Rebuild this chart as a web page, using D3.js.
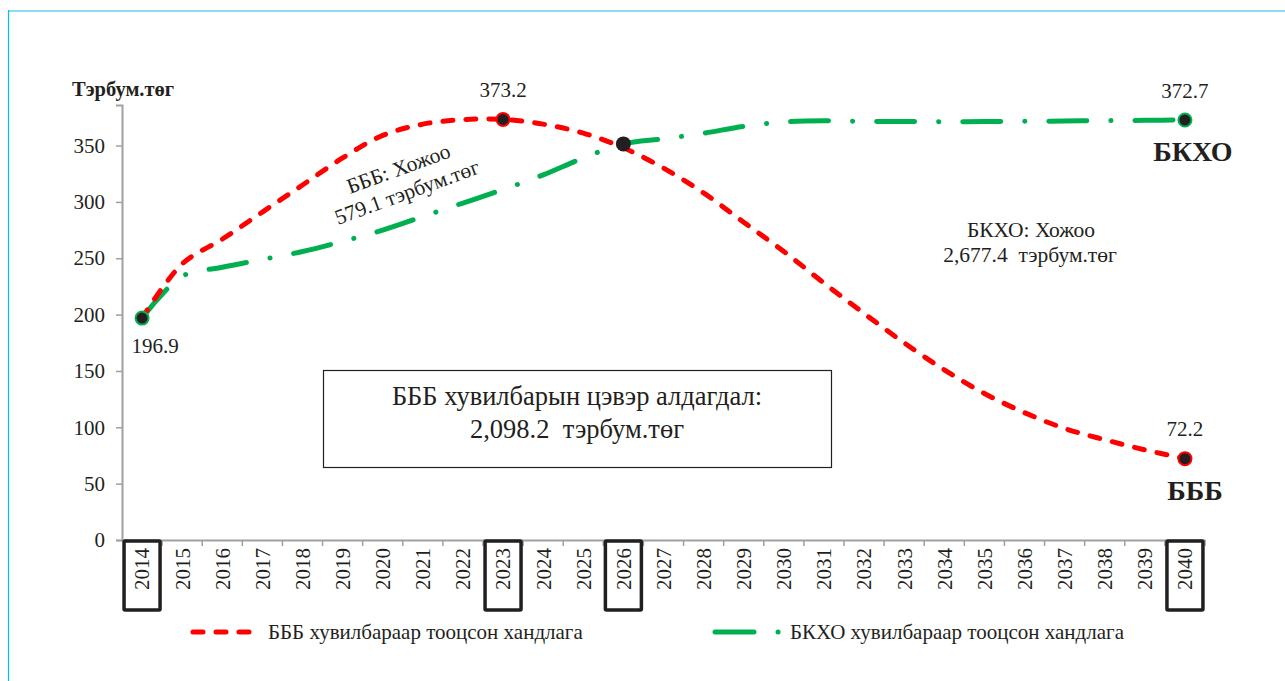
<!DOCTYPE html>
<html>
<head>
<meta charset="utf-8">
<script src="https://cdn.jsdelivr.net/npm/d3@7"></script>
<style>
  body { margin: 0; background: #fff; }
  text { font-family: "Liberation Serif", "DejaVu Serif", serif; fill: #231f20; }
</style>
</head>
<body>
<div id="chart"></div>
<script>
// Years on the x axis
const years = d3.range(2014, 2041).map(String);

// БББ scenario (red dashed), тэрбум.төг
const bbbValues = [196.9, 245, 267, 291, 315, 339, 359, 369, 373, 373.2,
  369, 361, 348, 330, 308, 282, 256, 228, 201, 175,
  151, 130, 113, 99, 89, 80, 72.2];

// БКХО scenario (green dash-dot)
const bkhoValues = [196.9, 234, 242, 249, 256, 265, 275, 287, 299, 311,
  324, 339, 351.5, 356, 361, 367, 371, 372, 371.5, 371.3,
  371.2, 371.3, 371.5, 371.8, 372.1, 372.4, 372.7];

const yTicks = [0, 50, 100, 150, 200, 250, 300, 350];
const boxedYears = ["2014", "2023", "2026", "2040"];

const W = 1285, H = 681;

const svg = d3.select("#chart").append("svg")
  .attr("width", W).attr("height", H);

// frame
svg.append("line").attr("x1", 8).attr("x2", W).attr("y1", 11).attr("y2", 11)
  .attr("stroke", "#8ddcf3").attr("stroke-width", 2);
svg.append("line").attr("x1", 8.5).attr("x2", 8.5).attr("y1", 10).attr("y2", H)
  .attr("stroke", "#00bff3").attr("stroke-width", 1.2);

const x = d3.scaleBand().domain(years).range([122, 1205]).paddingInner(0).paddingOuter(0);
const cx = d => x(d) + x.bandwidth() / 2;
const y = d3.scaleLinear().domain([0, 386]).range([540, 105]);

// y axis
const yAxis = svg.append("g").attr("transform", "translate(122,0)")
  .call(d3.axisLeft(y).tickValues(yTicks).tickSize(6).tickPadding(11));
yAxis.select(".domain").attr("stroke", "#a0a0a0").attr("stroke-width", 2);
yAxis.selectAll(".tick line").attr("stroke", "#a0a0a0").attr("stroke-width", 1.5);
yAxis.selectAll(".tick text").attr("font-size", 21)
  .attr("font-family", "Liberation Serif").attr("fill", "#231f20");

// x axis
const xAxis = svg.append("g").attr("transform", "translate(0,540)")
  .call(d3.axisBottom(x).tickSize(0).tickPadding(0));
xAxis.select(".domain").attr("stroke", "#a0a0a0").attr("stroke-width", 2);
xAxis.selectAll(".tick text")
  .attr("font-size", 21).attr("font-family", "Liberation Serif").attr("fill", "#231f20")
  .attr("text-anchor", "end").attr("dy", "0.35em")
  .attr("transform", "translate(0,8) rotate(-90)")
  .attr("x", 0).attr("y", 0);
// tick marks at band boundaries
svg.append("g").selectAll("line").data(years.slice(1).concat(["end"]))
  .join("line")
  .attr("x1", d => d === "end" ? 1205 : x(d))
  .attr("x2", d => d === "end" ? 1205 : x(d))
  .attr("y1", 540).attr("y2", 546)
  .attr("stroke", "#a0a0a0").attr("stroke-width", 1.5);

// highlight boxes around some years
svg.append("g").selectAll("rect").data(boxedYears).join("rect")
  .attr("x", d => cx(d) - 18).attr("y", 541)
  .attr("width", 36).attr("height", 69)
  .attr("fill", "none").attr("stroke", "#231f20").attr("stroke-width", 3.5)
  .attr("rx", 1);

// y axis title
svg.append("text").attr("x", 72).attr("y", 96)
  .attr("font-size", 20.5).attr("font-weight", "bold").text("Тэрбум.төг");

// lines
const line = d3.line()
  .x((d, i) => cx(years[i]))
  .y(d => y(d))
  .curve(d3.curveCatmullRom.alpha(0.5));

svg.append("path").datum(bkhoValues)
  .attr("d", line).attr("fill", "none")
  .attr("stroke", "#00b050").attr("stroke-width", 5)
  .attr("stroke-linecap", "round")
  .attr("stroke-dasharray", "38,24,0.1,24");

svg.append("path").datum(bbbValues)
  .attr("d", line).attr("fill", "none")
  .attr("stroke", "#ff0000").attr("stroke-width", 5)
  .attr("stroke-linecap", "round")
  .attr("stroke-dasharray", "10,13");

// markers
const markers = [
  { year: "2014", v: bkhoValues[0], stroke: "#00b050", r: 6.5 },
  { year: "2023", v: bbbValues[9], stroke: "#ff0000", r: 6.5 },
  { year: "2026", v: bkhoValues[12], stroke: "none", r: 7.5 },
  { year: "2040", v: bbbValues[26], stroke: "#ff0000", r: 6.5 },
  { year: "2040", v: bkhoValues[26], stroke: "#00b050", r: 6.5 }
];
svg.append("g").selectAll("circle").data(markers).join("circle")
  .attr("cx", d => cx(d.year)).attr("cy", d => y(d.v)).attr("r", d => d.r)
  .attr("fill", "#231f20").attr("stroke", d => d.stroke).attr("stroke-width", 2);

// value labels
const valueLabels = [
  { year: "2014", v: bbbValues[0], dx: 13, dy: 35 },
  { year: "2023", v: bbbValues[9], dx: 0, dy: -22 },
  { year: "2040", v: bkhoValues[26], dx: 0, dy: -22 },
  { year: "2040", v: bbbValues[26], dx: 0, dy: -23 }
];
svg.append("g").selectAll("text").data(valueLabels).join("text")
  .attr("x", d => cx(d.year) + d.dx).attr("y", d => y(d.v) + d.dy)
  .attr("text-anchor", "middle").attr("font-size", 21)
  .text(d => d.v.toFixed(1));

// series names near line ends
svg.append("text").attr("x", cx("2040") + 8).attr("y", 161)
  .attr("text-anchor", "middle").attr("font-size", 28).attr("font-weight", "bold")
  .text("БКХО");
svg.append("text").attr("x", cx("2040") + 10).attr("y", 500)
  .attr("text-anchor", "middle").attr("font-size", 28).attr("font-weight", "bold")
  .text("БББ");

// rotated annotation
const rot = svg.append("g").attr("transform", "translate(403,181) rotate(-20)");
rot.append("text").attr("x", 0).attr("y", -6).attr("text-anchor", "middle")
  .attr("font-size", 21.5).text("БББ: Хожоо");
rot.append("text").attr("x", 0).attr("y", 19).attr("text-anchor", "middle")
  .attr("font-size", 21.5).text("579.1 тэрбум.төг");

// БКХО annotation
svg.append("text").attr("x", 1031).attr("y", 237).attr("text-anchor", "middle")
  .attr("font-size", 21.5).text("БКХО: Хожоо");
svg.append("text").attr("x", 1030).attr("y", 262).attr("text-anchor", "middle")
  .attr("font-size", 21.5).attr("xml:space", "preserve").text("2,677.4  тэрбум.төг");

// net loss box
svg.append("rect").attr("x", 323.5).attr("y", 370.5).attr("width", 508).attr("height", 97)
  .attr("fill", "#fff").attr("stroke", "#231f20").attr("stroke-width", 1.2);
svg.append("text").attr("x", 577).attr("y", 405).attr("text-anchor", "middle")
  .attr("font-size", 26.5).text("БББ хувилбарын цэвэр алдагдал:");
svg.append("text").attr("x", 577).attr("y", 438).attr("text-anchor", "middle")
  .attr("font-size", 26.5).attr("xml:space", "preserve").text("2,098.2  тэрбум.төг");

// legend
const lg = svg.append("g");
lg.append("line").attr("x1", 193).attr("x2", 250).attr("y1", 632).attr("y2", 632)
  .attr("stroke", "#ff0000").attr("stroke-width", 5).attr("stroke-linecap", "round")
  .attr("stroke-dasharray", "10,13");
lg.append("text").attr("x", 268).attr("y", 639).attr("font-size", 21)
  .text("БББ хувилбараар тооцсон хандлага");
lg.append("line").attr("x1", 715).attr("x2", 781).attr("y1", 632).attr("y2", 632)
  .attr("stroke", "#00b050").attr("stroke-width", 5).attr("stroke-linecap", "round")
  .attr("stroke-dasharray", "39,24,0.1,24");
lg.append("text").attr("x", 790).attr("y", 639).attr("font-size", 21)
  .text("БКХО хувилбараар тооцсон хандлага");
</script>
</body>
</html>
